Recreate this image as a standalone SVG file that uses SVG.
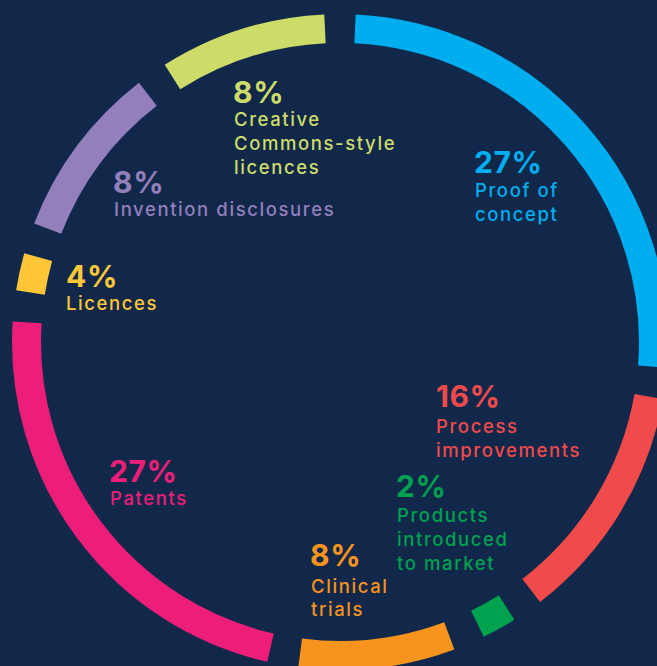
<svg xmlns="http://www.w3.org/2000/svg" width="657" height="666" viewBox="0 0 657 666">
<style>
.seg{fill:none;stroke-width:29;stroke-linecap:butt}
.pct{font-family:Inter,"Open Sans",sans-serif;font-weight:700;font-size:30px;letter-spacing:0.6px}
.lbl{font-family:Inter,"Open Sans",sans-serif;font-weight:500;font-size:18.5px;letter-spacing:1.6px}
.blue{fill:#00aeef}.red{fill:#f04a4a}.green{fill:#00a14f}.orange{fill:#f7941d}
.pink{fill:#ed1e79}.yellow{fill:#ffc737}.purple{fill:#937fbb}.lime{fill:#cddc69}
</style>
<rect width="657" height="666" fill="#11284a"/>
<g id="ring">
<path id="seg-proof" class="seg" stroke="#00aeef" d="M355.04 28.86 A313.5 313.5 0 0 1 652.53 366.60"/>
<path id="seg-process" class="seg" stroke="#f04a4a" d="M648.74 396.44 A313.5 313.5 0 0 1 531.25 590.41"/>
<path id="seg-products" class="seg" stroke="#00a14f" d="M506.59 607.57 A313.5 313.5 0 0 1 477.43 623.77"/>
<path id="seg-clinical" class="seg" stroke="#f7941d" d="M449.28 635.84 A313.5 313.5 0 0 1 300.17 652.96"/>
<path id="seg-patents" class="seg" stroke="#ed1e79" d="M270.54 647.71 A313.5 313.5 0 0 1 27.12 322.32"/>
<path id="seg-licences" class="seg" stroke="#ffc737" d="M30.45 292.42 A313.5 313.5 0 0 1 38.20 257.17"/>
<path id="seg-invention" class="seg" stroke="#937fbb" d="M47.70 228.63 A313.5 313.5 0 0 1 147.85 94.28"/>
<path id="seg-creative" class="seg" stroke="#cddc69" d="M172.48 77.01 A313.5 313.5 0 0 1 324.96 28.86"/>
</g>
<g id="label-creative" class="lime">
<text class="pct" x="233" y="103">8%</text>
<text class="lbl" x="234" y="126">Creative</text>
<text class="lbl" x="234" y="150">Commons-style</text>
<text class="lbl" x="234" y="174">licences</text>
</g>
<g id="label-invention" class="purple">
<text class="pct" x="113" y="193">8%</text>
<text class="lbl" x="114" y="216">Invention disclosures</text>
</g>
<g id="label-proof" class="blue">
<text class="pct" x="474" y="173">27%</text>
<text class="lbl" x="475" y="197">Proof of</text>
<text class="lbl" x="475" y="221">concept</text>
</g>
<g id="label-licences" class="yellow">
<text class="pct" x="66" y="287">4%</text>
<text class="lbl" x="66" y="310">Licences</text>
</g>
<g id="label-process" class="red">
<text class="pct" x="436" y="407">16%</text>
<text class="lbl" x="436" y="433">Process</text>
<text class="lbl" x="436" y="457">improvements</text>
</g>
<g id="label-products" class="green">
<text class="pct" x="396" y="497">2%</text>
<text class="lbl" x="397" y="522">Products</text>
<text class="lbl" x="397" y="546">introduced</text>
<text class="lbl" x="397" y="570">to market</text>
</g>
<g id="label-patents" class="pink">
<text class="pct" x="109" y="482">27%</text>
<text class="lbl" x="110" y="505">Patents</text>
</g>
<g id="label-clinical" class="orange">
<text class="pct" x="310" y="566">8%</text>
<text class="lbl" x="311" y="593">Clinical</text>
<text class="lbl" x="311" y="616">trials</text>
</g>
</svg>
